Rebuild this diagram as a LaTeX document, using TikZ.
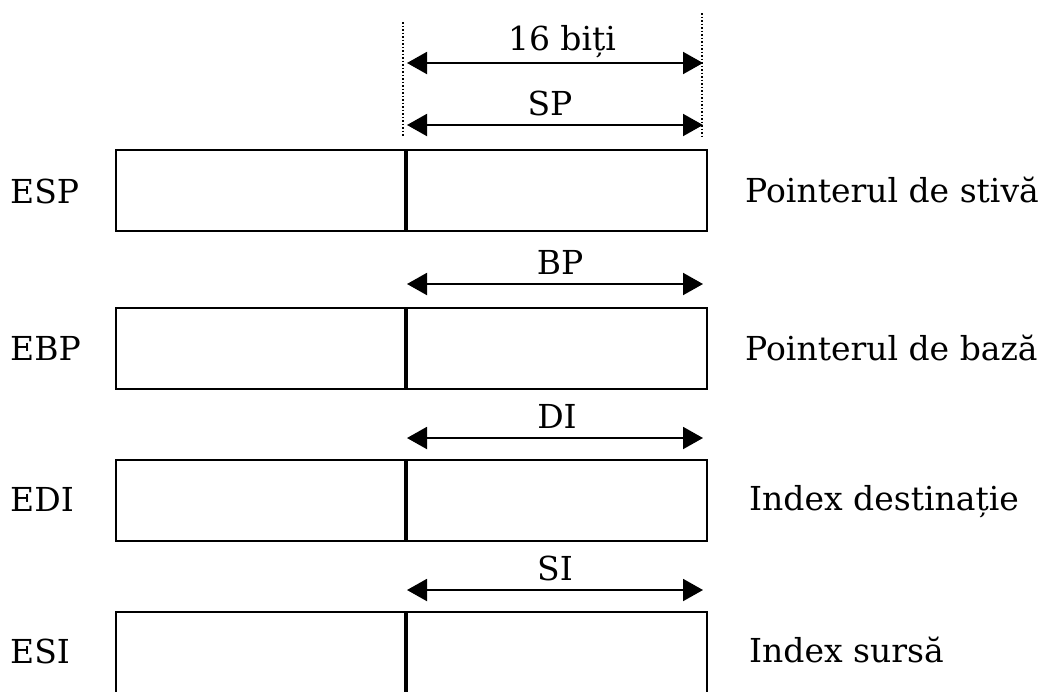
\documentclass[tikz,border=0pt]{standalone}
\usepackage{fontspec}
\setmainfont{DejaVu Serif}
\usetikzlibrary{arrows.meta}
\begin{document}
\begin{tikzpicture}[x=1pt,y=-1pt,
  lbl/.style={anchor=base west,inner sep=0pt,font=\fontsize{33}{38}\selectfont},
  toplbl/.style={anchor=base,inner sep=0pt,font=\fontsize{33}{38}\selectfont},
  reg/.style={line width=2.2pt},
  mid/.style={line width=4pt},
  dim/.style={line width=2pt,{Triangle[length=20pt,width=22pt]}-{Triangle[length=20pt,width=22pt]}},
  guide/.style={line width=1.5pt,dotted}]
\useasboundingbox (0,0) rectangle (1046,691);
\begin{scope}
\clip (0,0) rectangle (1046,691);
% guide lines
\coordinate (gl1) at (403,22);
\coordinate (gl2) at (403,137);
\coordinate (gr1) at (702,13);
\coordinate (gr2) at (702,137);
\draw[guide] (gl1) -- (gl2);
\draw[guide] (gr1) -- (gr2);
% dimension arrows
\foreach \n/\y in {a/63,b/125,c/284,d/438,e/590}{
  \coordinate (\n L) at (407,\y);
  \coordinate (\n R) at (703,\y);
  \draw[dim] (\n L) -- (\n R);
}
\node[toplbl] (t16) at (562,50) {16 biți};
\node[toplbl] (tsp) at (550,115) {SP};
\node[toplbl] (tbp) at (560,274) {BP};
\node[toplbl] (tdi) at (557,428) {DI};
\node[toplbl] (tsi) at (555,580) {SI};
% boxes
\foreach \n/\t/\b in {1/150/231,2/308/389,3/460/541,4/612/720}{
  \coordinate (b\n tl) at (116,\t);
  \coordinate (b\n br) at (707,\b);
  \coordinate (b\n mt) at (406,\t);
  \coordinate (b\n mb) at (406,\b);
  \draw[reg] (b\n tl) rectangle (b\n br);
  \draw[mid] (b\n mt) -- (b\n mb);
}
% left labels
\node[lbl] (esp) at (10,203) {ESP};
\node[lbl] (ebp) at (10,360) {EBP};
\node[lbl] (edi) at (10,511) {EDI};
\node[lbl] (esi) at (10,663) {ESI};
% right labels
\node[lbl] (r1) at (745,202) {Pointerul de stivă};
\node[lbl] (r2) at (745,360) {Pointerul de bază};
\node[lbl] (r3) at (749,510) {Index destinație};
\node[lbl] (r4) at (749,662) {Index sursă};
\end{scope}
\end{tikzpicture}
\end{document}
